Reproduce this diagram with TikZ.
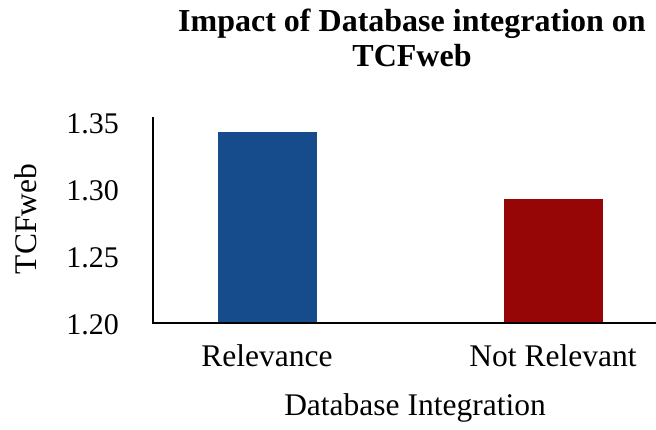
\documentclass[tikz,border=0pt]{standalone}
\usepackage{fontspec}
\setmainfont{Liberation Serif}
\begin{document}
\begin{tikzpicture}[x=1pt,y=-1pt,
  ticklbl/.style={anchor=east,inner sep=0pt,font=\fontsize{30}{30}\selectfont},
  catlbl/.style={inner sep=0pt,font=\fontsize{31.5}{32}\selectfont},
  axline/.style={line width=1.3pt,black},
  bar/.style={draw=none}]
\definecolor{barblue}{HTML}{174C8C}
\definecolor{barred}{HTML}{970606}
\useasboundingbox (0,0) rectangle (656,430);
% title
\node[inner sep=0pt,align=center,font=\fontsize{32}{35}\selectfont\bfseries,anchor=base] (title) at (412,32)
  {Impact of Database integration on};
\node[inner sep=0pt,font=\fontsize{32}{35}\selectfont\bfseries,anchor=base] (title2) at (412,67)
  {TCFweb};
% bars (1.20 at y=323, 0.05 per 66.7)
\fill[barblue] (218,323) rectangle (317,132) coordinate (b1);
\fill[barred] (504,323) rectangle (603,199) coordinate (b2);
% axes
\coordinate (o) at (153,323);
\coordinate (ytop) at (153,117);
\coordinate (xend) at (656,323);
\draw[axline] (ytop) -- (o) -- (xend);
% tick labels
\node[ticklbl] (t35) at (119,124) {1.35};
\node[ticklbl] (t30) at (119,191) {1.30};
\node[ticklbl] (t25) at (119,258) {1.25};
\node[ticklbl] (t20) at (119,325) {1.20};
% category labels
\node[catlbl] (c1) at (267,356) {Relevance};
\node[catlbl] (c2) at (553,356) {Not Relevant};
% axis titles
\node[catlbl] (xt) at (415,408) {Database Integration};
\node[catlbl,rotate=90] (yt) at (26,219) {TCFweb};
\end{tikzpicture}
\end{document}
